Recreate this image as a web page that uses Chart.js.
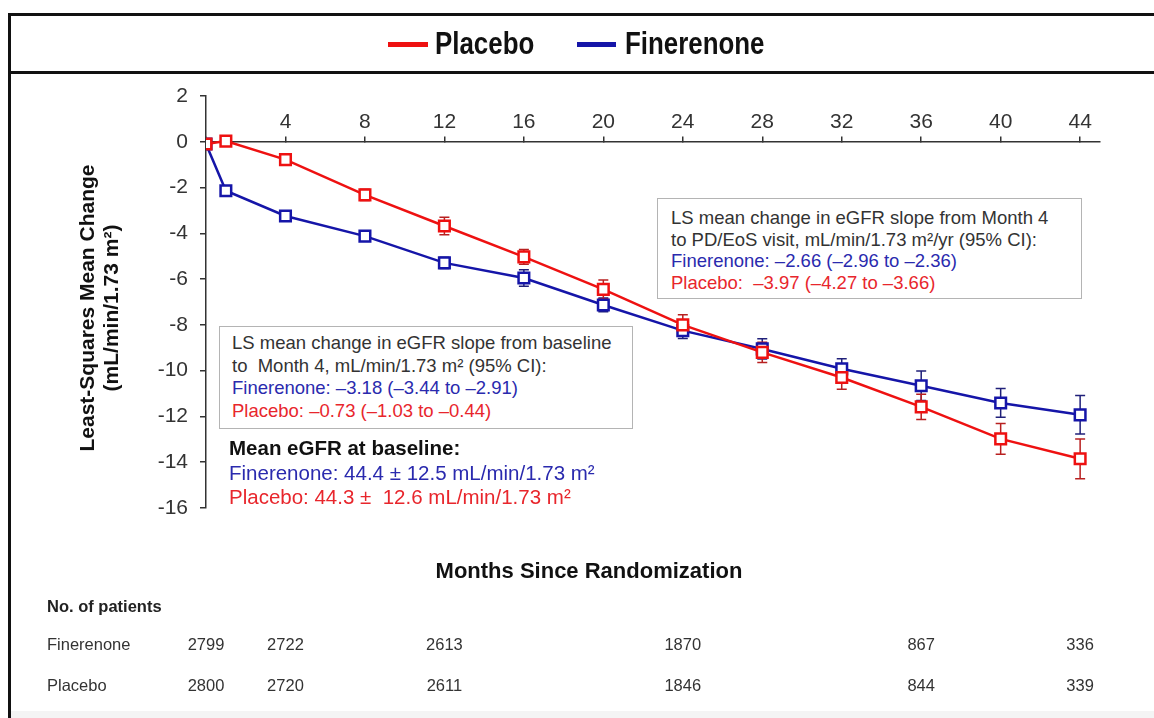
<!DOCTYPE html>
<html><head><meta charset="utf-8">
<script src="https://cdn.jsdelivr.net/npm/chart.js@4.4.1/dist/chart.umd.min.js"></script>
<style>
html,body{margin:0;padding:0;background:#fff;}
#wrap{position:relative;width:1154px;height:718px;overflow:hidden;font-family:"Liberation Sans",Arial,sans-serif;background:#fff;}
canvas{position:absolute;left:0;top:0;}
.abs{position:absolute;white-space:pre;}
.hline{position:absolute;background:#111;}
.leg{position:absolute;font-family:"Liberation Sans",Arial,sans-serif;font-weight:bold;font-size:31px;line-height:32px;color:#111;transform:scaleX(0.835);transform-origin:0 50%;white-space:pre;}
.box{position:absolute;border:1.5px solid #b4b4b4;background:#fff;box-sizing:border-box;color:#333;font-size:18.5px;}
.blue{color:#2a2aae;}
.red{color:#e8262c;}
</style></head><body>
<div id="wrap">
<canvas id="c" width="1154" height="718"></canvas>

<!-- frame -->
<div class="hline" style="left:8px;top:13px;width:1146px;height:3px;"></div>
<div class="hline" style="left:8px;top:71px;width:1146px;height:3px;"></div>
<div class="hline" style="left:8px;top:13px;width:3px;height:705px;"></div>
<div style="position:absolute;left:11px;top:711px;width:1143px;height:7px;background:#f4f4f4;"></div>

<!-- legend -->
<div style="position:absolute;left:388px;top:42px;width:40px;height:5px;background:#ee1111;"></div>
<div class="leg" style="left:435px;top:28px;">Placebo</div>
<div style="position:absolute;left:577px;top:42px;width:39px;height:5px;background:#1515a8;"></div>
<div class="leg" style="left:625px;top:28px;">Finerenone</div>

<!-- axis titles -->
<div class="abs" style="left:-110px;top:283px;width:420px;height:50px;line-height:24px;font-size:21px;font-weight:bold;color:#111;text-align:center;transform:rotate(-90deg);">Least-Squares Mean Change
(mL/min/1.73 m²)</div>
<div class="abs" style="left:339px;top:558px;width:500px;line-height:26px;font-size:22px;font-weight:bold;color:#111;text-align:center;">Months Since Randomization</div>

<!-- annotation box 1 -->
<div class="box" style="left:657px;top:198px;width:425px;height:101px;padding:8px 0 0 13px;line-height:21.5px;"><div class="abs" style="position:static;">LS mean change in eGFR slope from Month 4
to PD/EoS visit, mL/min/1.73 m²/yr (95% CI):
<span class="blue">Finerenone: –2.66 (–2.96 to –2.36)</span>
<span class="red">Placebo:  –3.97 (–4.27 to –3.66)</span></div></div>

<!-- annotation box 2 -->
<div class="box" style="left:219px;top:326px;width:414px;height:103px;padding:5px 0 0 12px;line-height:22.5px;"><div class="abs" style="position:static;">LS mean change in eGFR slope from baseline
to  Month 4, mL/min/1.73 m² (95% CI):
<span class="blue">Finerenone: –3.18 (–3.44 to –2.91)</span>
<span class="red">Placebo: –0.73 (–1.03 to –0.44)</span></div></div>

<!-- baseline text -->
<div class="abs" style="left:229px;top:436px;line-height:24.5px;font-size:20.5px;color:#111;"><b>Mean eGFR at baseline:</b>
<span class="blue">Finerenone: 44.4 ± 12.5 mL/min/1.73 m²</span>
<span class="red">Placebo: 44.3 ±  12.6 mL/min/1.73 m²</span></div>
</div>

<script>
// ---- data ----
const months = [0, 1, 4, 8, 12, 16, 20, 24, 28, 32, 36, 40, 44];
const placeboValues = [-0.1, 0.03, -0.78, -2.32, -3.68, -5.03, -6.45, -8.0, -9.2, -10.3, -11.58, -12.98, -13.85];
const finerenoneValues = [-0.1, -2.14, -3.24, -4.12, -5.29, -5.95, -7.13, -8.25, -9.05, -9.92, -10.66, -11.41, -11.93];
const placeboErr = [0, 0.1, 0.2, 0.25, 0.38, 0.32, 0.41, 0.44, 0.44, 0.51, 0.55, 0.67, 0.87];
const finerenoneErr = [0, 0.1, 0.2, 0.22, 0.25, 0.36, 0.3, 0.35, 0.44, 0.44, 0.64, 0.63, 0.84];
const xTicks = [4, 8, 12, 16, 20, 24, 28, 32, 36, 40, 44];
const yTicks = [2, 0, -2, -4, -6, -8, -10, -12, -14, -16];
const riskMonths = [0, 4, 12, 24, 36, 44];
const riskFinerenone = [2799, 2722, 2613, 1870, 867, 336];
const riskPlacebo = [2800, 2720, 2611, 1846, 844, 339];

const RED = '#ee1111', BLUE = '#1515a8';
const FONT = '"Liberation Sans", Arial, sans-serif';

const errorBars = {
  id: 'errorBars',
  beforeDatasetsDraw(chart) {
    const {ctx, scales: {x, y}} = chart;
    const sets = [[finerenoneValues, finerenoneErr, '#20207a'], [placeboValues, placeboErr, '#b82020']];
    ctx.save();
    ctx.lineWidth = 1.5;
    sets.forEach(([vals, errs, col]) => {
      ctx.strokeStyle = col;
      vals.forEach((v, i) => {
        const e = errs[i];
        if (!e) return;
        const px = x.getPixelForValue(months[i]);
        const t = y.getPixelForValue(v + e);
        const b = y.getPixelForValue(v - e);
        ctx.beginPath();
        ctx.moveTo(px, t); ctx.lineTo(px, b);
        ctx.moveTo(px - 5, t); ctx.lineTo(px + 5, t);
        ctx.moveTo(px - 5, b); ctx.lineTo(px + 5, b);
        ctx.stroke();
      });
    });
    ctx.restore();
  }
};

const riskTable = {
  id: 'riskTable',
  afterDraw(chart) {
    const {ctx, scales: {x}} = chart;
    ctx.save();
    ctx.fillStyle = '#222';
    ctx.textBaseline = 'middle';
    ctx.textAlign = 'left';
    ctx.font = 'bold 16.5px ' + FONT;
    ctx.fillText('No. of patients', 47, 607);
    ctx.font = '16.5px ' + FONT;
    ctx.fillStyle = '#333';
    ctx.fillText('Finerenone', 47, 645);
    ctx.fillText('Placebo', 47, 686);
    ctx.textAlign = 'center';
    riskMonths.forEach((m, i) => {
      const px = x.getPixelForValue(m);
      ctx.fillText(String(riskFinerenone[i]), px, 645);
      ctx.fillText(String(riskPlacebo[i]), px, 686);
    });
    ctx.restore();
  }
};

new Chart(document.getElementById('c'), {
  type: 'line',
  data: {
    datasets: [
      {
        label: 'Placebo',
        data: months.map((m, i) => ({x: m, y: placeboValues[i]})),
        borderColor: RED, backgroundColor: '#fff',
        borderWidth: 2.5,
        pointStyle: 'rect', pointRadius: 7.5, pointBorderWidth: 2.5,
        pointBackgroundColor: '#fff', pointBorderColor: RED,
        tension: 0
      },
      {
        label: 'Finerenone',
        data: months.map((m, i) => ({x: m, y: finerenoneValues[i]})),
        borderColor: BLUE, backgroundColor: '#fff',
        borderWidth: 2.5,
        pointStyle: 'rect', pointRadius: 7.5, pointBorderWidth: 2.5,
        pointBackgroundColor: '#fff', pointBorderColor: BLUE,
        tension: 0
      }
    ]
  },
  options: {
    responsive: false,
    animation: false,
    devicePixelRatio: 1,
    layout: {padding: {left: 0, top: 96, right: 54, bottom: 210}},
    plugins: {legend: {display: false}, tooltip: {enabled: false}},
    scales: {
      x: {
        type: 'linear', min: 0, max: 45,
        position: {y: 0},
        afterFit: s => { s.height = 0; },
        afterBuildTicks: s => { s.ticks = [0].concat(xTicks).map(v => ({value: v})); },
        border: {display: true, color: '#333', width: 1.5},
        grid: {drawOnChartArea: false, drawTicks: true, tickLength: -6, color: '#333', lineWidth: 1.5},
        ticks: {
          autoSkip: false, maxRotation: 0, padding: -26,
          callback: v => (v === 0 ? '' : String(v)),
          font: {size: 21, family: FONT}, color: '#333'
        }
      },
      y: {
        type: 'linear', min: -16, max: 2,
        position: 'left',
        afterFit: s => { s.width = 206; },
        afterBuildTicks: s => { s.ticks = yTicks.slice().reverse().map(v => ({value: v})); },
        border: {display: true, color: '#333', width: 1.5},
        grid: {drawOnChartArea: false, drawTicks: true, tickLength: 6, color: '#333', lineWidth: 1.5},
        ticks: {padding: 12, font: {size: 21, family: FONT}, color: '#333'}
      }
    }
  },
  plugins: [errorBars, riskTable]
});
</script>
</body></html>
